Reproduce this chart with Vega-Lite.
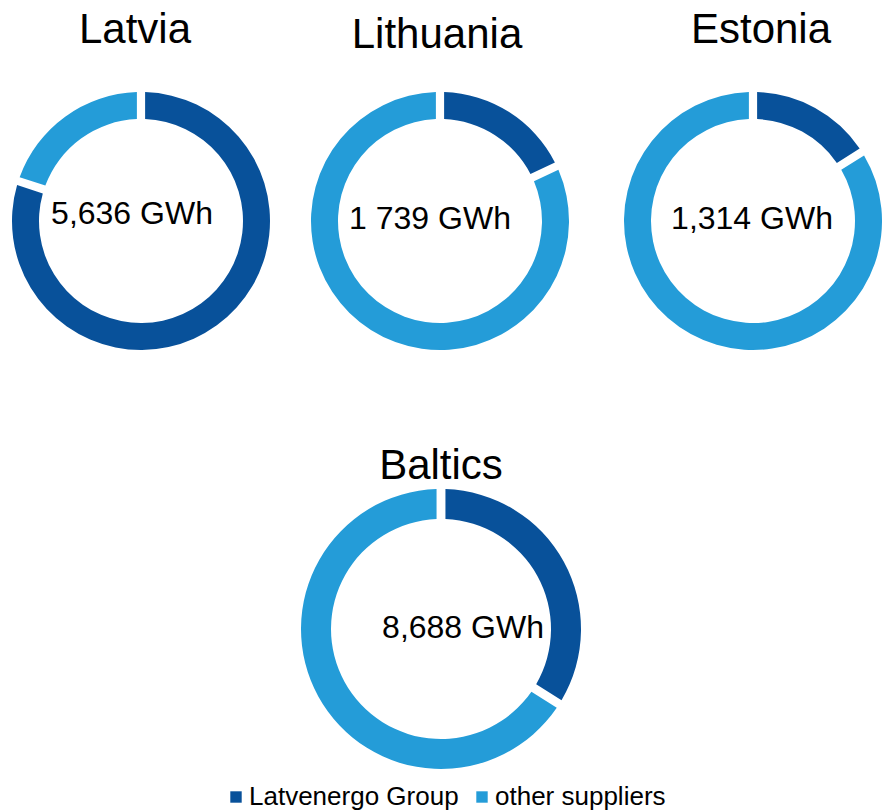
{
  "$schema": "https://vega.github.io/schema/vega-lite/v6.json",
  "background": "white",
  "padding": {"top": 9, "left": 0, "right": 0, "bottom": 0},
  "config": {
    "view": {"stroke": null},
    "font": "Liberation Sans",
    "title": {"fontSize": 42, "font": "Liberation Sans", "fontWeight": "normal", "color": "black", "offset": 40, "anchor": "middle"},
    "text": {"font": "Liberation Sans", "fontSize": 32, "color": "black"}
  },
  "datasets": {
    "shares": [
      {"region": "Latvia", "supplier": "Latvenergo Group", "share": 80},
      {"region": "Latvia", "supplier": "other suppliers", "share": 20},
      {"region": "Lithuania", "supplier": "Latvenergo Group", "share": 18},
      {"region": "Lithuania", "supplier": "other suppliers", "share": 82},
      {"region": "Estonia", "supplier": "Latvenergo Group", "share": 16},
      {"region": "Estonia", "supplier": "other suppliers", "share": 84},
      {"region": "Baltics", "supplier": "Latvenergo Group", "share": 34},
      {"region": "Baltics", "supplier": "other suppliers", "share": 66}
    ],
    "totals": [
      {"region": "Latvia", "label": "5,636 GWh"},
      {"region": "Lithuania", "label": "1 739 GWh"},
      {"region": "Estonia", "label": "1,314 GWh"},
      {"region": "Baltics", "label": "8,688 GWh"}
    ]
  },
  "spacing": 95,
  "center": true,
  "resolve": {"legend": {"color": "independent"}},
  "vconcat": [
    {
      "spacing": 55,
      "hconcat": [
        {
          "spacing": 29,
          "hconcat": [
            {
              "width": 282, "height": 258,
              "title": {"text": "Latvia", "dx": -6},
              "layer": [
                {
                  "data": {"name": "shares"},
                  "transform": [{"filter": "datum.region === 'Latvia'"}],
                  "mark": {"type": "arc", "innerRadius": 102, "outerRadius": 129, "padAngle": 0.05},
                  "encoding": {
                    "theta": {"field": "share", "type": "quantitative", "stack": true},
                    "order": {"field": "supplier", "type": "nominal"},
                    "color": {"field": "supplier", "type": "nominal",
                      "scale": {"domain": ["Latvenergo Group", "other suppliers"], "range": ["#08519A", "#249CD8"]},
                      "legend": null}
                  }
                },
                {
                  "data": {"name": "totals"},
                  "transform": [{"filter": "datum.region === 'Latvia'"}],
                  "mark": {"type": "text", "align": "center", "baseline": "middle", "dx": -9, "dy": -7},
                  "encoding": {"text": {"field": "label", "type": "nominal"}}
                }
              ]
            },
            {
              "width": 258, "height": 258,
              "title": {"text": "Lithuania", "dx": -3, "dy": 5},
              "layer": [
                {
                  "data": {"name": "shares"},
                  "transform": [{"filter": "datum.region === 'Lithuania'"}],
                  "mark": {"type": "arc", "innerRadius": 102, "outerRadius": 129, "padAngle": 0.05},
                  "encoding": {
                    "theta": {"field": "share", "type": "quantitative", "stack": true},
                    "order": {"field": "supplier", "type": "nominal"},
                    "color": {"field": "supplier", "type": "nominal",
                      "scale": {"domain": ["Latvenergo Group", "other suppliers"], "range": ["#08519A", "#249CD8"]},
                      "legend": null}
                  }
                },
                {
                  "data": {"name": "totals"},
                  "transform": [{"filter": "datum.region === 'Lithuania'"}],
                  "mark": {"type": "text", "align": "center", "baseline": "middle", "dx": -10, "dy": -2},
                  "encoding": {"text": {"field": "label", "type": "nominal"}}
                }
              ]
            }
          ]
        },
        {
          "width": 258, "height": 258,
          "title": {"text": "Estonia", "dx": 8},
          "layer": [
            {
              "data": {"name": "shares"},
              "transform": [{"filter": "datum.region === 'Estonia'"}],
              "mark": {"type": "arc", "innerRadius": 102, "outerRadius": 129, "padAngle": 0.05},
              "encoding": {
                "theta": {"field": "share", "type": "quantitative", "stack": true},
                "order": {"field": "supplier", "type": "nominal"},
                "color": {"field": "supplier", "type": "nominal",
                  "scale": {"domain": ["Latvenergo Group", "other suppliers"], "range": ["#08519A", "#249CD8"]},
                  "legend": null}
              }
            },
            {
              "data": {"name": "totals"},
              "transform": [{"filter": "datum.region === 'Estonia'"}],
              "mark": {"type": "text", "align": "center", "baseline": "middle", "dx": -1, "dy": -2},
              "encoding": {"text": {"field": "label", "type": "nominal"}}
            }
          ]
        }
      ]
    },
    {
      "width": 480, "height": 280,
      "title": {"text": "Baltics", "offset": 1},
      "layer": [
        {
          "data": {"name": "shares"},
          "transform": [{"filter": "datum.region === 'Baltics'"}],
          "mark": {"type": "arc", "innerRadius": 110, "outerRadius": 140, "padAngle": 0.05},
          "encoding": {
            "theta": {"field": "share", "type": "quantitative", "stack": true},
            "order": {"field": "supplier", "type": "nominal"},
            "color": {"field": "supplier", "type": "nominal",
              "scale": {"domain": ["Latvenergo Group", "other suppliers"], "range": ["#08519A", "#249CD8"]},
              "legend": {"orient": "none", "legendX": 22, "legendY": 295, "direction": "horizontal", "title": null, "symbolType": "square", "symbolSize": 130, "symbolStrokeWidth": 0, "labelFontSize": 26, "labelFont": "Liberation Sans", "labelColor": "black", "labelLimit": 300, "columnPadding": 10, "labelOffset": 0, "padding": 0}}
          }
        },
        {
          "data": {"name": "totals"},
          "transform": [{"filter": "datum.region === 'Baltics'"}],
          "mark": {"type": "text", "align": "center", "baseline": "middle", "dx": 22, "dy": -1},
          "encoding": {"text": {"field": "label", "type": "nominal"}}
        }
      ]
    }
  ]
}
